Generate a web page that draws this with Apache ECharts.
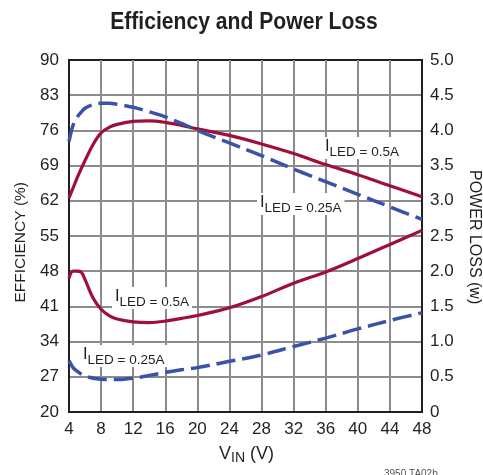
<!DOCTYPE html>
<html>
<head>
<meta charset="utf-8">
<script src="https://cdn.jsdelivr.net/npm/echarts@6/dist/echarts.min.js"></script>
<style>
  html, body { margin: 0; padding: 0; background: #fff; }
  #chart { width: 483px; height: 475px; }
</style>
</head>
<body>
<div id="chart"></div>
<script>
// Input voltage sample points (V)
const vin = [4, 4.5, 5, 5.5, 6, 7, 8, 9, 10, 12, 14, 16, 18, 20, 24, 28, 32, 36, 40, 44, 48];

// Efficiency (%) at I_LED = 0.5A and 0.25A
const effHigh = [62.6, 64.5, 66.5, 68.3, 70.0, 73.2, 75.5, 76.6, 77.2, 77.8, 77.9, 77.6, 77.0, 76.3, 75.0, 73.3, 71.4, 69.2, 67.2, 65.0, 62.8];
const effLow  = [73.8, 77.0, 78.6, 79.6, 80.4, 81.1, 81.4, 81.4, 81.2, 80.6, 79.7, 78.7, 77.4, 76.0, 73.5, 71.0, 68.3, 65.8, 63.3, 60.8, 58.3];

// Power loss (W) at I_LED = 0.5A and 0.25A
const lossHigh = [1.90, 2.00, 2.00, 1.99, 1.88, 1.62, 1.46, 1.37, 1.32, 1.28, 1.27, 1.29, 1.33, 1.37, 1.48, 1.64, 1.83, 1.99, 2.18, 2.38, 2.58];
const lossLow  = [0.73, 0.63, 0.58, 0.54, 0.51, 0.48, 0.465, 0.46, 0.46, 0.48, 0.52, 0.56, 0.60, 0.63, 0.72, 0.81, 0.93, 1.05, 1.18, 1.30, 1.41];

// Left axis tick labels (%)
const effTicks = [20, 27, 34, 41, 48, 55, 62, 69, 76, 83, 90];

const FONT = '"Liberation Sans", Arial, sans-serif';
const RED = '#9e1038';
const BLUE = '#3853a8';
const GRID = '#8c8c8c';
const INK = '#231f20';

const pairs = (ys) => vin.map((v, i) => [v, ys[i]]);

const chart = echarts.init(document.getElementById('chart'), null, { renderer: 'canvas' });

// "I" with the "LED = x" part set as a subscript
function currentLabel(x, y, current) {
  return {
    type: 'text',
    x: x,
    y: y,
    z: 100,
    style: {
      text: '{i|I}{s|LED = ' + current + '}',
      backgroundColor: '#fff',
      padding: [1, 3, 0, 3],
      rich: {
        i: { fontFamily: FONT, fontSize: 16.5, fill: INK, verticalAlign: 'top', lineHeight: 21 },
        s: { fontFamily: FONT, fontSize: 13.5, fill: INK, verticalAlign: 'bottom', lineHeight: 21 }
      }
    }
  };
}

chart.setOption({
  animation: false,
  backgroundColor: '#fff',
  grid: {
    left: 69, right: 61, top: 60, bottom: 63,
    show: true, borderColor: INK, borderWidth: 2, backgroundColor: 'transparent'
  },
  xAxis: {
    type: 'value',
    min: 4, max: 48, interval: 4,
    axisLine: { show: true, lineStyle: { color: INK, width: 2 } },
    axisTick: { show: false },
    axisLabel: { fontFamily: FONT, fontSize: 17, color: INK, margin: 9 },
    splitLine: { show: true, showMinLine: false, showMaxLine: false, lineStyle: { color: GRID, width: 2 } }
  },
  yAxis: [
    {
      type: 'value',
      position: 'left',
      min: 20, max: 90,
      axisLine: { show: true, lineStyle: { color: INK, width: 2 } },
      axisTick: { show: false },
      axisLabel: { fontFamily: FONT, fontSize: 17, color: INK, margin: 10, customValues: effTicks },
      splitLine: { show: false }
    },
    {
      type: 'value',
      position: 'right',
      min: 0, max: 5, interval: 0.5,
      axisLine: { show: true, lineStyle: { color: INK, width: 2 } },
      axisTick: { show: false },
      axisLabel: {
        fontFamily: FONT, fontSize: 17, color: INK, margin: 8,
        formatter: (v) => (v === 0 ? '0' : v.toFixed(1))
      },
      splitLine: { show: true, showMinLine: false, showMaxLine: false, lineStyle: { color: GRID, width: 2 } }
    }
  ],
  series: [
    {
      name: 'Efficiency 0.5A', type: 'line', yAxisIndex: 0, data: pairs(effHigh),
      smooth: 0.35, showSymbol: false, lineStyle: { color: RED, width: 3.2 }
    },
    {
      name: 'Efficiency 0.25A', type: 'line', yAxisIndex: 0, data: pairs(effLow),
      smooth: 0.35, showSymbol: false, lineStyle: { color: BLUE, width: 3.5, type: [19, 7] }
    },
    {
      name: 'Loss 0.5A', type: 'line', yAxisIndex: 1, data: pairs(lossHigh),
      smooth: 0.35, showSymbol: false, lineStyle: { color: RED, width: 3.2 }
    },
    {
      name: 'Loss 0.25A', type: 'line', yAxisIndex: 1, data: pairs(lossLow),
      smooth: 0.35, showSymbol: false, lineStyle: { color: BLUE, width: 3.5, type: [19, 7] }
    }
  ],
  graphic: [
    {
      // condensed bold heading
      type: 'text', x: 244, y: 10, scaleX: 0.88, z: 100,
      style: {
        text: 'Efficiency and Power Loss', fontFamily: FONT, fontWeight: 'bold', fontSize: 24,
        fill: INK, textAlign: 'center', textVerticalAlign: 'top'
      }
    },
    currentLabel(322, 137, '0.5A'),
    currentLabel(257, 193, '0.25A'),
    currentLabel(112, 287, '0.5A'),
    currentLabel(80, 345, '0.25A'),
    {
      type: 'text', left: 13, top: 182, rotation: Math.PI / 2, z: 100,
      style: { text: 'EFFICIENCY (%)', fontFamily: FONT, fontSize: 15.5, fill: INK }
    },
    {
      type: 'text', left: 466, top: 170, rotation: -Math.PI / 2, z: 100,
      style: { text: 'POWER LOSS (w)', fontFamily: FONT, fontSize: 16, fill: INK }
    },
    {
      type: 'text', x: 219, y: 445, z: 100,
      style: {
        text: '{v|V}{s|IN}{v| (V)}',
        rich: {
          v: { fontFamily: FONT, fontSize: 18, fill: INK, verticalAlign: 'top', lineHeight: 20 },
          s: { fontFamily: FONT, fontSize: 14, fill: INK, verticalAlign: 'bottom', lineHeight: 20, padding: [6, 0, 0, 0] }
        }
      }
    },
    {
      type: 'text', x: 384, y: 469, z: 100,
      style: { text: '3950 TA02b', fontFamily: FONT, fontSize: 10, fill: '#555' }
    }
  ]
});
</script>
</body>
</html>
